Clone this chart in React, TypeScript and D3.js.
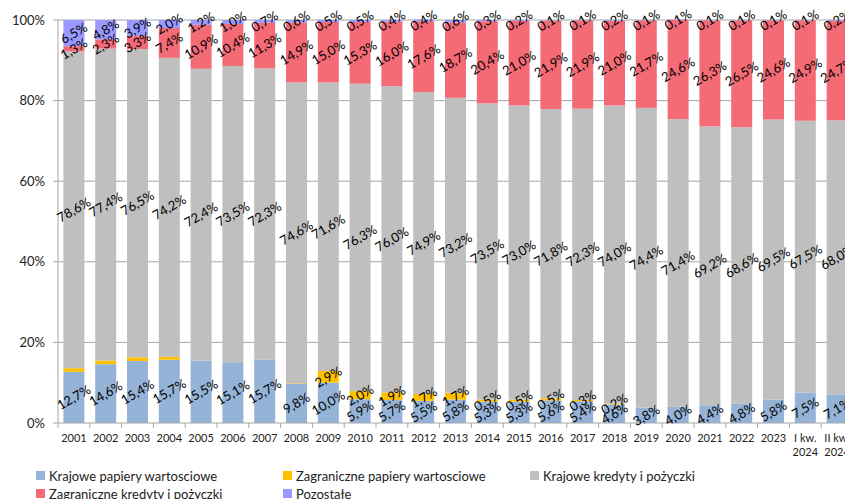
import React from 'react';
import * as d3 from 'd3';

const categories = [
  '2001', '2002', '2003', '2004', '2005', '2006', '2007', '2008', '2009', '2010',
  '2011', '2012', '2013', '2014', '2015', '2016', '2017', '2018', '2019', '2020',
  '2021', '2022', '2023', 'I kw.\n2024', 'II kw.\n2024',
];

const krajowePapiery = [12.7, 14.6, 15.4, 15.7, 15.5, 15.1, 15.7, 9.8, 10.0, 5.9, 5.7, 5.5, 5.8, 5.3, 5.3, 5.6, 5.4, 4.6, 3.8, 4.0, 4.4, 4.8, 5.8, 7.5, 7.1];
const zagranicznePapiery = [0.9, 0.9, 0.9, 0.7, 0, 0, 0, 0.1, 2.9, 2.0, 1.9, 1.7, 1.7, 0.5, 0.5, 0.5, 0.3, 0.2, 0, 0, 0, 0, 0, 0, 0];
const krajoweKredyty = [78.6, 77.4, 76.5, 74.2, 72.4, 73.5, 72.3, 74.6, 71.6, 76.3, 76.0, 74.9, 73.2, 73.5, 73.0, 71.8, 72.3, 74.0, 74.4, 71.4, 69.2, 68.6, 69.5, 67.5, 68.0];
const zagraniczneKredyty = [1.3, 2.3, 3.3, 7.4, 10.9, 10.4, 11.3, 14.9, 15.0, 15.3, 16.0, 17.6, 18.7, 20.4, 21.0, 21.9, 21.9, 21.0, 21.7, 24.6, 26.3, 26.5, 24.6, 24.9, 24.7];
const pozostale = [6.5, 4.8, 3.9, 2.0, 1.2, 1.0, 0.7, 0.6, 0.5, 0.5, 0.4, 0.4, 0.6, 0.3, 0.2, 0.1, 0.1, 0.2, 0.1, 0.1, 0.1, 0.1, 0.1, 0.1, 0.2];

const yTicks = [0, 20, 40, 60, 80, 100];

const series = [
  { key: 'kp', name: 'Krajowe papiery wartosciowe', color: '#95b3d7', values: krajowePapiery, labelFrom: 0 },
  { key: 'zp', name: 'Zagraniczne papiery wartosciowe', color: '#ffc000', values: zagranicznePapiery, labelFrom: 8 },
  { key: 'kk', name: 'Krajowe kredyty i pożyczki', color: '#bfbfbf', values: krajoweKredyty, labelFrom: 0 },
  { key: 'zk', name: 'Zagraniczne kredyty i pożyczki', color: '#f46b76', values: zagraniczneKredyty, labelFrom: 0 },
  { key: 'po', name: 'Pozostałe', color: '#9999ff', values: pozostale, labelFrom: 0 },
];

const FONT = 'Lato, "Open Sans", sans-serif';
const fmt = (v: number) => d3.format('.1f')(v).replace('.', ',') + '%';

const App = () => {
  const width = 845;
  const height = 499;
  const left = 58;
  const step = 31.8;

  const x = d3.scaleBand<string>()
    .domain(categories)
    .range([left, left + step * categories.length])
    .paddingInner(0.34)
    .paddingOuter(0.17);

  const y = d3.scaleLinear().domain([0, 100]).range([423, 20]);

  const rows = categories.map((c, i) => {
    const r: any = { cat: c };
    series.forEach(s => { r[s.key] = s.values[i]; });
    return r;
  });
  const stacked = d3.stack().keys(series.map(s => s.key))(rows);

  const legendPos = [[36, 472], [283, 472], [530, 472], [36, 490], [283, 490]];

  return (
    <svg width={width} height={height} style={{ display: 'block' }} fontFamily={FONT}>
      <style>{'body{margin:0}'}</style>
      {/* gridlines */}
      {yTicks.filter(t => t > 0).map(t => (
        <line key={t} x1={left} x2={width} y1={y(t)} y2={y(t)} stroke="#a6a6a6" strokeWidth={1} />
      ))}
      {/* bars */}
      {stacked.map((layer, si) => (
        <g key={layer.key} fill={series[si].color}>
          {layer.map((d, i) => (
            <rect key={i} x={x(categories[i])} width={x.bandwidth()}
              y={y(d[1])} height={Math.max(0, y(d[0]) - y(d[1]))} />
          ))}
        </g>
      ))}
      {/* axes */}
      <line x1={left} x2={left} y1={y(100)} y2={y(0)} stroke="#a6a6a6" />
      <line x1={left} x2={width} y1={y(0)} y2={y(0)} stroke="#a6a6a6" />
      {yTicks.map(t => (
        <g key={t}>
          <line x1={left - 5} x2={left} y1={y(t)} y2={y(t)} stroke="#a6a6a6" />
          <text x={45} y={y(t)} dy="0.35em" textAnchor="end" fontSize={13} fill="#222">{t}%</text>
        </g>
      ))}
      {categories.map((c, i) => {
        const x0 = left + i * step;
        const cx = (x(c) as number) + x.bandwidth() / 2;
        return (
          <g key={c}>
            <line x1={x0} x2={x0} y1={y(0)} y2={y(0) + 5} stroke="#a6a6a6" />
            {c.split('\n').map((ln, k) => (
              <text key={k} x={cx} y={442 + k * 14} textAnchor="middle" fontSize={11} fill="#222">{ln}</text>
            ))}
          </g>
        );
      })}
      {/* data labels */}
      {stacked.map((layer, si) => layer.map((d, i) => {
        const v = series[si].values[i];
        if (i < series[si].labelFrom || v <= 0) return null;
        const cx = (x(categories[i]) as number) + x.bandwidth() / 2;
        const cy = y((d[0] + d[1]) / 2);
        return (
          <text key={`${si}-${i}`} transform={`translate(${cx},${cy}) rotate(-30)`}
            textAnchor="middle" dy="0.35em" fontSize={13} fill="#000">{fmt(v)}</text>
        );
      }))}
      {/* legend */}
      {series.map((s, i) => (
        <g key={s.key} transform={`translate(${legendPos[i][0]},${legendPos[i][1]})`}>
          <rect x={0} y={-1} width={9} height={9} fill={s.color} />
          <text x={13} y={4} dy="0.35em" fontSize={13} fill="#222">{s.name}</text>
        </g>
      ))}
    </svg>
  );
};

export default App;
